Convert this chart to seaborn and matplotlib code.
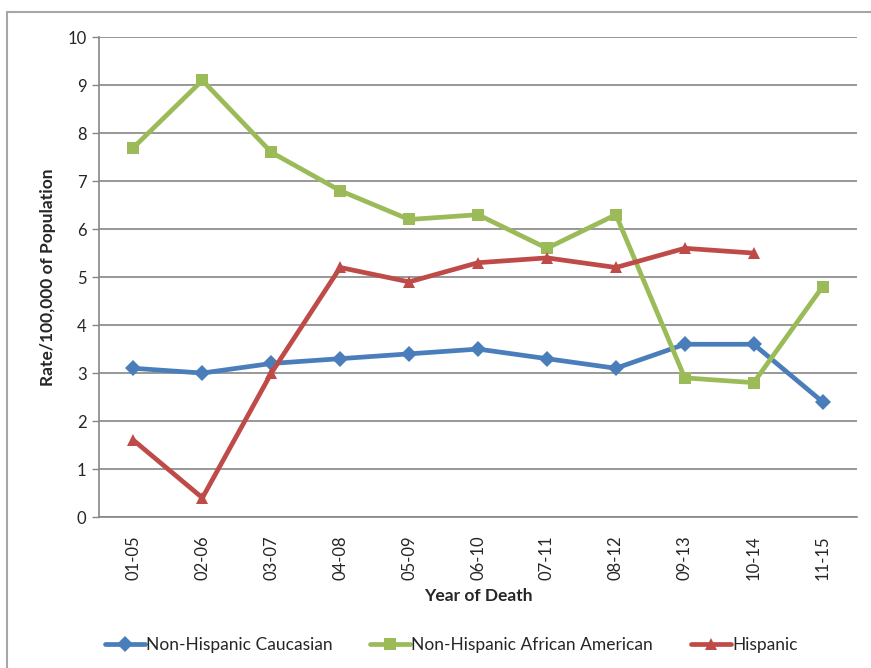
import numpy as np
import pandas as pd
import matplotlib
matplotlib.use("Agg")
import matplotlib.pyplot as plt
import seaborn as sns
from matplotlib.patches import Rectangle

okresy = ['01-05', '02-06', '03-07', '04-08', '05-09', '06-10',
          '07-11', '08-12', '09-13', '10-14', '11-15']
caucasian = [3.1, 3.0, 3.2, 3.3, 3.4, 3.5, 3.3, 3.1, 3.6, 3.6, 2.4]
african_american = [7.7, 9.1, 7.6, 6.8, 6.2, 6.3, 5.6, 6.3, 2.9, 2.8, 4.8]
hispanic = [1.6, 0.4, 3.0, 5.2, 4.9, 5.3, 5.4, 5.2, 5.6, 5.5, np.nan]

grupy = ['Non-Hispanic Caucasian', 'Non-Hispanic African American', 'Hispanic']
kolory = {'Non-Hispanic Caucasian': '#4A7EBB',
          'Non-Hispanic African American': '#9BBB59',
          'Hispanic': '#BE4B48'}
markery = {'Non-Hispanic Caucasian': 'D',
           'Non-Hispanic African American': 's',
           'Hispanic': '^'}

df = pd.DataFrame({
    'idx': list(range(len(okresy))) * 3,
    'Rate': caucasian + african_american + hispanic,
    'Group': [g for g in grupy for _ in okresy],
})
df = df.dropna()

sns.set_style('white')
plt.rcParams['font.family'] = ['Lato', 'DejaVu Sans']

fig = plt.figure(figsize=(8.71, 6.68), dpi=100)
ax = fig.add_axes([0.1137, 0.226, 0.8703, 0.7184])

fig.patches.append(Rectangle((7 / 871, -0.1), 1.2, (668 - 12) / 668 + 0.1,
                             transform=fig.transFigure, fill=False,
                             edgecolor='#A6A6A6', linewidth=1.5))

sns.lineplot(data=df, x='idx', y='Rate', hue='Group', style='Group',
             hue_order=grupy, style_order=grupy, palette=kolory,
             markers=markery, dashes=False, linewidth=3.4, markersize=8.5,
             markeredgewidth=0, ax=ax, legend=False)

ax.set_xlim(-0.5, len(okresy) - 0.5)
ax.set_ylim(0, 10)
ax.set_yticks(range(0, 11))
ax.set_xticks(range(len(okresy)))
ax.set_xticklabels(okresy, rotation=90, fontsize=12)
ax.tick_params(axis='y', labelsize=12, length=5, color='#868686', left=True, width=1, pad=4)
ax.tick_params(axis='x', length=0, pad=13)
ax.yaxis.grid(True, color='#868686', linewidth=1.2)
ax.set_axisbelow(True)
for s in ['top', 'right']:
    ax.spines[s].set_visible(False)
for s in ['left', 'bottom']:
    ax.spines[s].set_color('#868686')
    ax.spines[s].set_linewidth(1.2)

ax.set_xlabel('Year of Death', fontsize=12.5, fontweight='bold', labelpad=6)
ax.set_ylabel('Rate/100,000 of Population', fontsize=12.5, fontweight='bold', labelpad=8)

uchwyty = [plt.Line2D([], [], color=kolory[g], marker=markery[g], linewidth=3.4,
                      markersize=8.5, markeredgewidth=0) for g in grupy]
fig.legend(uchwyty, grupy, loc='center', bbox_to_anchor=(0.518, 0.035), ncol=3,
           frameon=False, fontsize=12.5, handlelength=2.3, handletextpad=0.05,
           columnspacing=2.2)

fig.savefig('out.png', dpi=100)
